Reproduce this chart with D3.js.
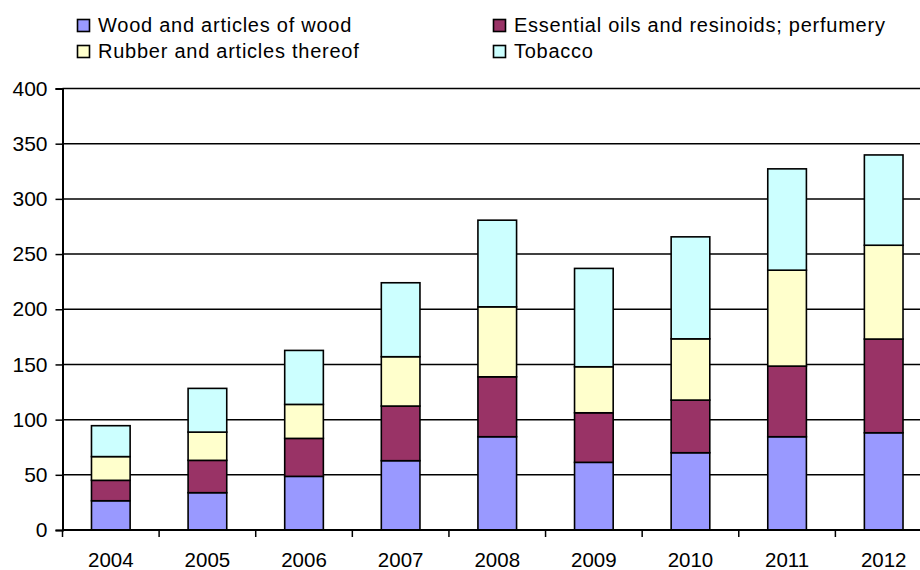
<!DOCTYPE html>
<html>
<head>
<meta charset="utf-8">
<script src="https://cdn.jsdelivr.net/npm/d3@7"></script>
<style>
  html, body { margin: 0; padding: 0; background: #fff; overflow: hidden; }
  svg { display: block; font-family: "Liberation Sans", Arial, sans-serif; }
</style>
</head>
<body>
<svg id="chart" width="920" height="570"></svg>
<script>
// Years on the category axis
const years = ["2004", "2005", "2006", "2007", "2008", "2009", "2010", "2011", "2012"];

// Stacked series, bottom to top
const wood      = [26.5, 33.8, 48.6, 62.8, 84.5, 61.3, 70.0, 84.5, 88.1];
const essential = [18.5, 29.3, 34.4, 49.5, 54.3, 44.9, 47.7, 64.0, 84.9];
const rubber    = [21.5, 25.6, 30.8, 44.7, 63.4, 41.7, 55.5, 86.9, 85.0];
const tobacco   = [28.0, 39.6, 48.9, 67.0, 78.5, 89.1, 92.4, 91.8, 81.8];

const seriesNames = [
  "Wood and articles of wood",
  "Essential oils and resinoids; perfumery",
  "Rubber and articles thereof",
  "Tobacco"
];
const seriesColors = ["#9999FF", "#993366", "#FFFFCC", "#CCFFFF"];
const yTicks = [0, 50, 100, 150, 200, 250, 300, 350, 400];

const svg = d3.select("#chart");

const plot = { left: 62.5, right: 932, top: 88.5, bottom: 530 };

const x = d3.scaleBand()
  .domain(years)
  .range([plot.left, plot.right])
  .paddingInner(0.6)
  .paddingOuter(0.3);

const y = d3.scaleLinear()
  .domain([0, 400])
  .range([plot.bottom, plot.top]);

// Build rows for the stack
const keys = ["wood", "essential", "rubber", "tobacco"];
const rows = years.map((yr, i) => ({
  year: yr,
  wood: wood[i],
  essential: essential[i],
  rubber: rubber[i],
  tobacco: tobacco[i]
}));
const stacked = d3.stack().keys(keys)(rows);

// Horizontal gridlines
svg.append("g")
  .selectAll("line")
  .data(yTicks.filter(t => t > 0))
  .join("line")
  .attr("x1", plot.left)
  .attr("x2", plot.right)
  .attr("y1", d => y(d))
  .attr("y2", d => y(d))
  .attr("stroke", "#000")
  .attr("stroke-width", 1.5);

// Bars
svg.append("g")
  .selectAll("g")
  .data(stacked)
  .join("g")
  .attr("fill", (d, i) => seriesColors[i])
  .selectAll("rect")
  .data(d => d)
  .join("rect")
  .attr("x", d => x(d.data.year))
  .attr("width", x.bandwidth())
  .attr("y", d => y(d[1]))
  .attr("height", d => y(d[0]) - y(d[1]))
  .attr("stroke", "#000")
  .attr("stroke-width", 1.6);

// Y axis
const yAxis = d3.axisLeft(y)
  .tickValues(yTicks)
  .tickSize(7)
  .tickPadding(8);
const gy = svg.append("g")
  .attr("transform", `translate(${plot.left},0)`)
  .call(yAxis);
gy.select(".domain").attr("stroke", "#000").attr("stroke-width", 2);
gy.selectAll(".tick line").attr("stroke", "#000").attr("stroke-width", 1.5);
gy.selectAll(".tick text")
  .attr("fill", "#000")
  .style("font-size", "21px")
  .style("font-family", "Liberation Sans, Arial, sans-serif");

// X axis with ticks on category boundaries
const gx = svg.append("g")
  .attr("transform", `translate(0,${plot.bottom})`);
gx.append("line")
  .attr("x1", plot.left)
  .attr("x2", plot.right)
  .attr("stroke", "#000")
  .attr("stroke-width", 2);
const step = x.step();
const boundaries = d3.range(years.length + 1).map(i => plot.left + i * step);
gx.selectAll("line.tk")
  .data(boundaries)
  .join("line")
  .attr("class", "tk")
  .attr("x1", d => d)
  .attr("x2", d => d)
  .attr("y1", 0)
  .attr("y2", 7)
  .attr("stroke", "#000")
  .attr("stroke-width", 1.5);
gx.selectAll("text")
  .data(years)
  .join("text")
  .attr("x", d => x(d) + x.bandwidth() / 2)
  .attr("y", 37)
  .attr("text-anchor", "middle")
  .attr("fill", "#000")
  .style("font-size", "20.5px")
  .text(d => d);

// Legend, two columns
const legendPos = [
  { x: 77.5, y: 25.5 },
  { x: 493.5, y: 25.5 },
  { x: 77.5, y: 51.5 },
  { x: 493.5, y: 51.5 }
];
const legend = svg.append("g")
  .selectAll("g")
  .data(seriesNames)
  .join("g")
  .attr("transform", (d, i) => `translate(${legendPos[i].x},${legendPos[i].y})`);
legend.append("rect")
  .attr("x", 0)
  .attr("y", -6)
  .attr("width", 12)
  .attr("height", 12)
  .attr("fill", (d, i) => seriesColors[i])
  .attr("stroke", "#000")
  .attr("stroke-width", 1.6);
legend.append("text")
  .attr("x", 20.5)
  .attr("y", 6.5)
  .attr("fill", "#000")
  .style("font-size", "20px")
  .style("letter-spacing", "0.75px")
  .text(d => d);
</script>
</body>
</html>
